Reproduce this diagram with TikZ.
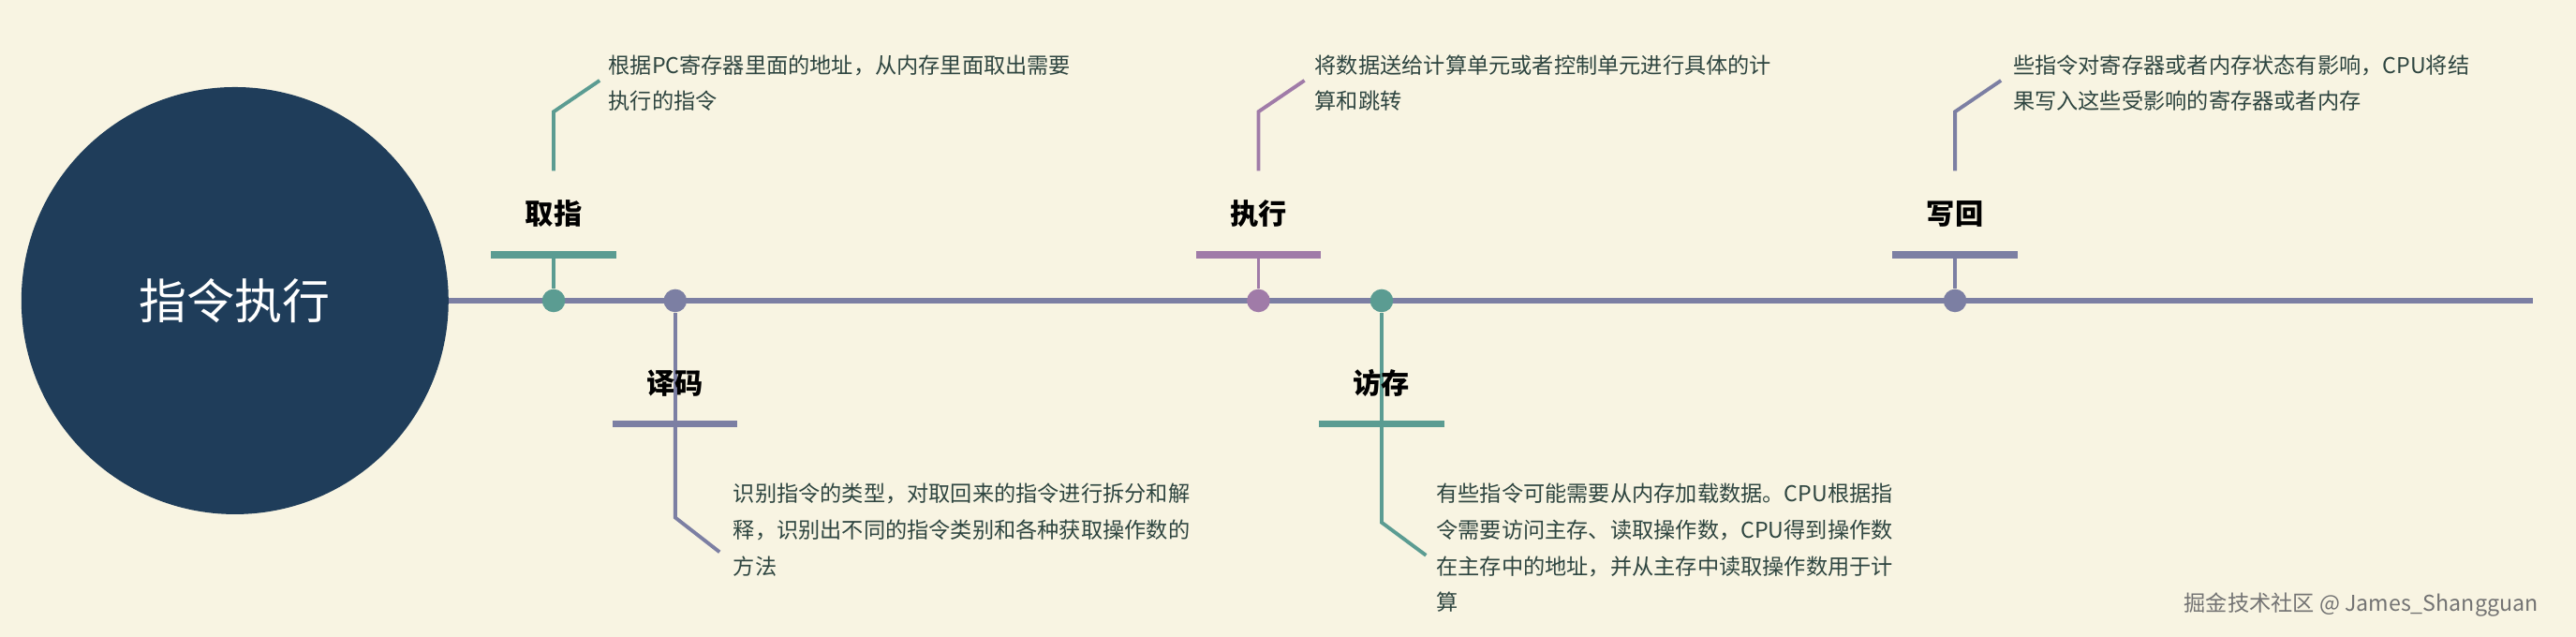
\documentclass[tikz,border=0pt]{standalone}
\usepackage{fontspec}
\setmainfont{Noto Sans CJK SC}
\newfontfamily\cjk{Noto Sans CJK SC}
\definecolor{bg}{HTML}{F8F4E2}
\definecolor{navy}{HTML}{1F3D5A}
\definecolor{teal}{HTML}{5B9C92}
\definecolor{slate}{HTML}{7C7FA3}
\definecolor{mauve}{HTML}{A07BA8}
\definecolor{txt}{HTML}{2E4540}
\begin{document}
\begin{tikzpicture}[x=0.017538cm,y=-0.017538cm,
  desc/.style={anchor=north west,align=left,font=\cjk\fontsize{6.6}{11}\selectfont,text=txt,inner sep=0pt},
  lab/.style={font=\cjk\bfseries\fontsize{8.6}{10}\selectfont,text=black},
  bar/.style={line width=2.2pt},
  lead/.style={line width=1.1pt},
  dot/.style={circle,inner sep=0pt,minimum size=7pt}]
\fill[bg] (0,0) rectangle (1568,387.7);
\useasboundingbox (0,0) rectangle (1568,387.7);
\coordinate (L0) at (273,183); \coordinate (L1) at (1542,183);
\draw[slate,line width=1.7pt] (L0) -- (L1);
\node[circle,fill=navy,minimum size=260*0.017538cm,inner sep=0pt,text=white,font=\cjk\fontsize{14.5}{16}\selectfont] (c) at (143,183) {指令执行};
% upper items
\foreach \x/\c/\n/\t in {337/teal/a/取指,766/mauve/c3/执行,1190/slate/e/写回}{
  \node[dot,fill=\c] (d\n) at (\x,183) {};
  \coordinate (b\n) at (\x,155);
  \draw[\c,bar] (\x-38,155) -- (\x+38,155);
  \draw[\c,lead] (d\n) -- (b\n);
  \node[lab] (l\n) at (\x,130) {\t};
  \coordinate (p\n) at (\x,104); \coordinate (q\n) at (\x,68); \coordinate (r\n) at (\x+28,49);
  \draw[\c,lead] (p\n) -- (q\n) -- (r\n);
}
\node[desc] (ta) at (370,33) {根据PC寄存器里面的地址，从内存里面取出需要\\执行的指令};
\node[desc] (tc3) at (800,33) {将数据送给计算单元或者控制单元进行具体的计\\算和跳转};
\node[desc] (te) at (1225,33) {些指令对寄存器或者内存状态有影响，CPU将结\\果写入这些受影响的寄存器或者内存};
% lower items
\foreach \x/\c/\n/\t in {411/slate/b/译码,841/teal/d/访存}{
  \node[dot,fill=\c] (d\n) at (\x,183) {};
  \coordinate (b\n) at (\x,258);
  \draw[\c,bar] (\x-38,258) -- (\x+38,258);
  \draw[\c,lead] (d\n) -- (b\n);
  \node[lab] (l\n) at (\x,233) {\t};
  \coordinate (p\n) at (\x,260);
}
\coordinate (qb) at (411,315); \coordinate (rb) at (438,336);
\draw[slate,lead] (pb) -- (qb) -- (rb);
\coordinate (qd) at (841,318); \coordinate (rd) at (868,338);
\draw[teal,lead] (pd) -- (qd) -- (rd);
\node[desc] (tb) at (446,294) {识别指令的类型，对取回来的指令进行拆分和解\\释，识别出不同的指令类别和各种获取操作数的\\方法};
\node[desc] (td) at (874,294) {有些指令可能需要从内存加载数据。CPU根据指\\令需要访问主存、读取操作数，CPU得到操作数\\在主存中的地址，并从主存中读取操作数用于计\\算};
\node[anchor=east,font=\cjk\fontsize{6.6}{8}\selectfont,text=black!55] (wm) at (1552,368) {掘金技术社区 @ James\_Shangguan};
\end{tikzpicture}
\end{document}
